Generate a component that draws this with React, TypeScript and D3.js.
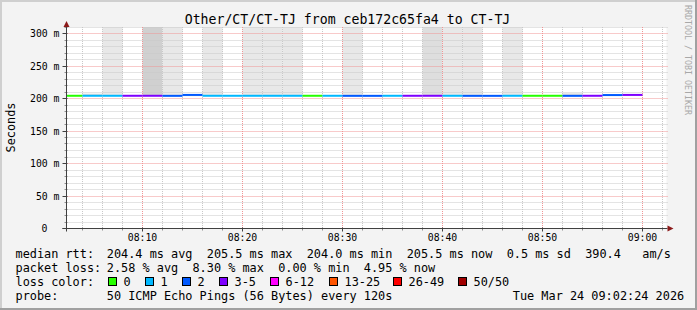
import React from "react";
import * as d3 from "d3";

// ---- data ----
const stepEnds = [
  "08:04", "08:06", "08:08", "08:10", "08:12", "08:14", "08:16", "08:18", "08:20", "08:22",
  "08:24", "08:26", "08:28", "08:30", "08:32", "08:34", "08:36", "08:38", "08:40", "08:42",
  "08:44", "08:46", "08:48", "08:50", "08:52", "08:54", "08:56", "08:58", "09:00",
];
const medianMs = [
  204.2, 204.2, 204.2, 204.2, 204.2, 204.1, 205.5, 204.2, 204.2, 204.2,
  204.2, 204.2, 204.2, 204.2, 204.1, 204.1, 204.2, 204.2, 204.2, 204.2,
  204.1, 204.1, 204.2, 204.2, 204.2, 204.1, 204.2, 205.3, 205.5,
];
const lossCount = [
  0, 1, 1, 3, 4, 2, 2, 1, 1, 1,
  1, 1, 0, 1, 2, 2, 1, 3, 3, 1,
  2, 2, 1, 0, 0, 2, 3, 2, 3,
];
const smokeLow = [
  204.2, 203.8, 203.8, 204.2, 203.8, 203.8, 203.6, 203.8, 204.2, 203.8,
  203.8, 203.8, 204.2, 204.2, 203.8, 204.1, 204.2, 204.2, 203.8, 203.8,
  203.8, 204.1, 203.8, 204.2, 204.2, 203.8, 204.2, 205.3, 205.5,
];
const smokeHigh = [
  204.2, 207.5, 400, 204.2, 400, 400, 205.5, 400, 204.2, 400,
  400, 400, 204.2, 204.2, 400, 204.1, 204.2, 204.2, 400, 400,
  400, 204.1, 400, 204.2, 204.2, 208.0, 204.2, 205.3, 205.5,
];
const smokeShade = [
  0, 2, 1, 0, 3, 1, 2, 1, 0, 1,
  1, 1, 0, 0, 1, 0, 0, 0, 2, 1,
  1, 0, 1, 0, 0, 2, 0, 0, 0,
];

const lossLabels = ["0", "1", "2", "3-5", "6-12", "13-25", "26-49", "50/50"];
const lossUpper = [0, 1, 2, 5, 12, 25, 49, 50];
const lossColors = ["#26ff00", "#00b8ff", "#0059ff", "#7e00ff", "#ff00ff", "#ff5500", "#ff0000", "#a10000"];
const shadeColors = ["none", "#e8e8e8", "#dedede", "#d0d0d0"];

const yMajorTicks = [0, 50, 100, 150, 200, 250, 300];

const title = "Other/CT/CT-TJ from ceb172c65fa4 to CT-TJ";
const rttLine = "204.4 ms avg  205.5 ms max  204.0 ms min  205.5 ms now  0.5 ms sd  390.4   am/s";
const lossLine = "2.58 % avg  8.30 % max  0.00 % min  4.95 % now";
const probeLine = "50 ICMP Echo Pings (56 Bytes) every 120s";
const stampLine = "Tue Mar 24 09:02:24 2026";

// ---- layout ----
const W = 697, H = 310;
const X0 = 66.5, X1 = 666.5, YB = 228.5, YT = 27;
const FONT = "'DejaVu Sans Mono', monospace";
const legendBoxX = [108.5, 145.5, 182.5, 219.5, 270.5, 329.5, 393.5, 458.5];

const day = (hm: string) => {
  const [h, m] = hm.split(":").map(Number);
  return new Date(2026, 2, 24, h, m, 0);
};
const tStart = new Date(2026, 2, 24, 8, 2, 24);
const tEnd = new Date(2026, 2, 24, 9, 2, 24);

const x = d3.scaleTime().domain([tStart, tEnd]).range([X0, X1]);
const y = d3.scaleLinear().domain([0, 310]).range([YB, YT]);
const crisp = (v: number) => Math.round(v - 0.5) + 0.5;

const lossColor = (c: number) => {
  const i = lossUpper.findIndex((u) => c <= u);
  return lossColors[i < 0 ? lossColors.length - 1 : i];
};

export default function App() {
  const minorX = d3.timeMinute.every(2)!.range(tStart, tEnd);
  const majorX = d3.timeMinute.every(10)!.range(tStart, tEnd);
  const minorY = d3.range(0, 311, 10);
  const fmt = d3.timeFormat("%H:%M");

  const steps = stepEnds.map((s, i) => {
    const end = day(s);
    const start = new Date(Math.max(end.getTime() - 120000, tStart.getTime()));
    return { x0: x(start), x1: x(end), i };
  });

  return (
    <svg width={W} height={H} style={{ position: "absolute", left: 0, top: 0 }} fontFamily={FONT}>
      <defs>
        <clipPath id="plot">
          <rect x={X0} y={YT} width={X1 - X0} height={YB - YT} />
        </clipPath>
      </defs>
      <rect x={0} y={0} width={W} height={H} fill="#f3f3f3" />
      {/* border */}
      <rect x={0} y={0} width={W} height={2} fill="#cfcfcf" />
      <rect x={0} y={0} width={2} height={H} fill="#cfcfcf" />
      <rect x={W - 2} y={0} width={2} height={H} fill="#a0a0a0" />
      <rect x={0} y={H - 2} width={W} height={2} fill="#a0a0a0" />

      <text x={347.5} y={24.3} fontSize={13.2} textAnchor="middle" fill="#000">{title}</text>

      {/* canvas */}
      <rect x={X0} y={YT} width={X1 - X0} height={YB - YT} fill="#fff" />

      {/* smoke */}
      <g clipPath="url(#plot)">
        {steps.map((s) =>
          smokeShade[s.i] > 0 && smokeHigh[s.i] > smokeLow[s.i] ? (
            <rect key={s.i} x={s.x0} width={s.x1 - s.x0} y={y(smokeHigh[s.i])}
              height={y(smokeLow[s.i]) - y(smokeHigh[s.i])} fill={shadeColors[smokeShade[s.i]]} />
          ) : null
        )}
      </g>

      {/* grid */}
      <g strokeWidth={1} strokeDasharray="1,1" fill="none">
        {minorY.filter((v) => v % 50 !== 0).map((v) => (
          <line key={"my" + v} x1={X0} x2={X1 + 2} y1={crisp(y(v))} y2={crisp(y(v))} stroke="#c8c8c8" />
        ))}
        {minorX.filter((t) => t.getMinutes() % 10 !== 0).map((t) => (
          <line key={"mx" + t.getTime()} x1={crisp(x(t))} x2={crisp(x(t))} y1={YT} y2={YB} stroke="#c8c8c8" />
        ))}
        {yMajorTicks.filter((v) => v > 0).map((v) => (
          <line key={"My" + v} x1={X0} x2={X1 + 2} y1={crisp(y(v))} y2={crisp(y(v))} stroke="#f09494" />
        ))}
        {majorX.map((t) => (
          <line key={"Mx" + t.getTime()} x1={crisp(x(t))} x2={crisp(x(t))} y1={YT} y2={YB} stroke="#f09494" />
        ))}
      </g>

      {/* median line */}
      <g>
        {steps.map((s) => (
          <rect key={s.i} x={s.x0} width={s.x1 - s.x0} y={y(medianMs[s.i]) - 1} height={2}
            fill={lossColor(lossCount[s.i])} />
        ))}
      </g>

      {/* axes */}
      <g stroke="#404040" strokeWidth={1}>
        {minorY.map((v) => (
          <line key={"ty" + v} x1={v % 50 === 0 ? X0 - 4 : X0 - 2} x2={X0 + 1} y1={crisp(y(v))} y2={crisp(y(v))}
            stroke={v % 50 === 0 ? "#404040" : "#909090"} />
        ))}
        {minorX.map((t) => (
          <line key={"tx" + t.getTime()} x1={crisp(x(t))} x2={crisp(x(t))} y1={YB - 1}
            y2={t.getMinutes() % 10 === 0 ? YB + 3 : YB + 2}
            stroke={t.getMinutes() % 10 === 0 ? "#404040" : "#909090"} />
        ))}
        <line x1={X0 - 4} x2={X1 + 1} y1={YB} y2={YB} />
        <line x1={X0} x2={X0} y1={YB + 3} y2={YT - 1} />
      </g>
      <path d={`M${X1 + 1},${YB - 3} L${X1 + 7},${YB} L${X1 + 1},${YB + 3} Z`} fill="#8c1a1a" />
      <path d={`M${X0 - 3},${YT} L${X0},${YT - 6} L${X0 + 3},${YT} Z`} fill="#8c1a1a" />

      {/* tick labels */}
      <g fontSize={9.8} fill="#000">
        {majorX.map((t) => (
          <text key={"lx" + t.getTime()} x={x(t)} y={241} textAnchor="middle">{fmt(t)}</text>
        ))}
        {yMajorTicks.map((v) => (
          <text key={"ly" + v} x={v === 0 ? 47.5 : 59.5} y={y(v) + 3.5} textAnchor="end">
            {v === 0 ? "0" : `${v} m`}
          </text>
        ))}
      </g>

      <text transform="translate(14.5,127.5) rotate(-90)" fontSize={11.86} textAnchor="middle" fill="#000">Seconds</text>
      <text transform="translate(685,5) rotate(90)" fontSize={8.3} fill="#a8a8a8">RRDTOOL / TOBI OETIKER</text>

      {/* legend */}
      <g fontSize={11.86} fill="#000" style={{ whiteSpace: "pre" }}>
        <text x={15.5} y={258.3} xmlSpace="preserve">median rtt:</text>
        <text x={106.8} y={258.3} xmlSpace="preserve">{rttLine}</text>
        <text x={15.5} y={272.3} xmlSpace="preserve">packet loss:</text>
        <text x={106.8} y={272.3} xmlSpace="preserve">{lossLine}</text>
        <text x={15.5} y={286.3} xmlSpace="preserve">loss color:</text>
        {lossLabels.map((l, i) => (
          <g key={l}>
            <rect x={legendBoxX[i]} y={277.5} width={8} height={8} fill={lossColors[i]} stroke="#000" strokeWidth={1} />
            <text x={legendBoxX[i] + 15} y={286.3}>{l}</text>
          </g>
        ))}
        <text x={15.5} y={300.3} xmlSpace="preserve">probe:</text>
        <text x={106.8} y={300.3} xmlSpace="preserve">{probeLine}</text>
        <text x={512.8} y={300.3} xmlSpace="preserve">{stampLine}</text>
      </g>
    </svg>
  );
}
